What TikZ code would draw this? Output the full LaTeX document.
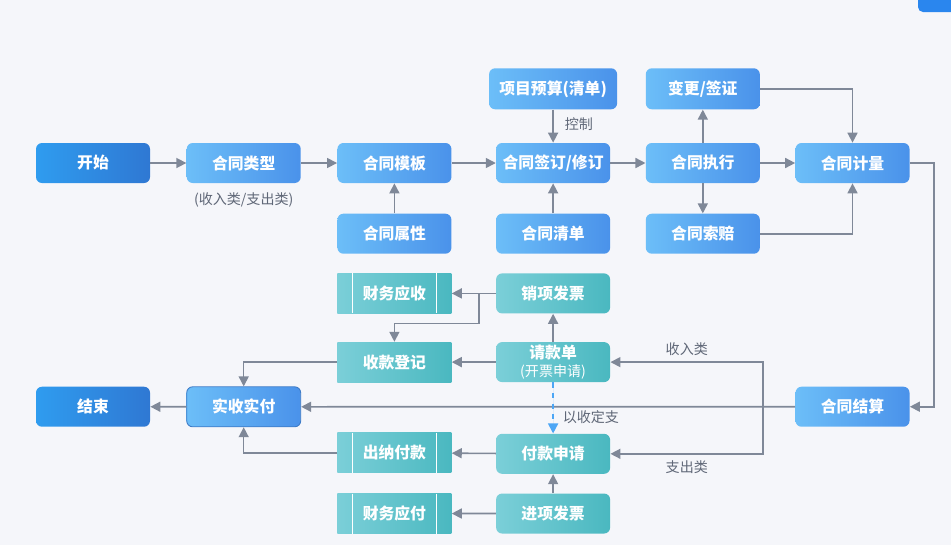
\documentclass[tikz,border=0pt]{standalone}
\usepackage{fontspec}
\setmainfont{Noto Sans CJK SC}
\usetikzlibrary{positioning,arrows.meta}

\definecolor{bgcol}{HTML}{F5F6FA}
\definecolor{termL}{HTML}{2F9CEF}
\definecolor{termR}{HTML}{2F78D3}
\definecolor{procL}{HTML}{6CBEF8}
\definecolor{procR}{HTML}{4A92EA}
\definecolor{tealL}{HTML}{7BCFD8}
\definecolor{tealR}{HTML}{4AB8C0}
\definecolor{linegray}{HTML}{7F8898}
\definecolor{notegray}{HTML}{5F6777}
\definecolor{dashblue}{HTML}{4DA6F5}
\definecolor{cornerblue}{HTML}{2A86EE}

\tikzstyle{base}=[rectangle, minimum width=2.28cm, minimum height=0.8cm, inner sep=1pt,
        text=white, align=center, font=\bfseries\fontsize{9}{10.5}\selectfont]
\tikzstyle{terminal}=[base, rounded corners=0.12cm, left color=termL, right color=termR]
\tikzstyle{process}=[base, rounded corners=0.12cm, left color=procL, right color=procR]
\tikzstyle{finance}=[base, rounded corners=0.12cm, left color=tealL, right color=tealR]
\tikzstyle{ledger}=[base, left color=tealL, right color=tealR]
\tikzstyle{account}=[ledger, path picture={
        \draw[white, line width=0.6pt] ([xshift=0.3cm]path picture bounding box.north west)
            -- ([xshift=0.3cm]path picture bounding box.south west);
        \draw[white, line width=0.6pt] ([xshift=-0.3cm]path picture bounding box.north east)
            -- ([xshift=-0.3cm]path picture bounding box.south east);}]
\tikzstyle{myarrow}=[-{Triangle[length=0.2cm, width=0.2cm]}, draw=linegray, line width=0.9pt]
\tikzstyle{dasharrow}=[-{Triangle[length=0.2cm, width=0.2cm]}, draw=dashblue, fill=dashblue,
        line width=0.9pt, dashed]
\tikzstyle{note}=[text=notegray, font=\fontsize{8}{9.5}\selectfont]

\begin{document}
\begin{tikzpicture}[node distance=0.72cm]
    \path[use as bounding box, fill=bgcol] (0,0) rectangle (19.02,-10.9);
    \fill[cornerblue, rounded corners=0.1cm] (18.36,0.2) rectangle (19.4,-0.24);

    % contract row
    \node (Start) [terminal] at (1.86,-3.26) {开始};
    \node (Type) [process, right=of Start] {合同类型};
    \node (TypeNote) [note, below=0.06cm of Type] {(收入类/支出类)};
    \node (Template) [process, right=0.72cm of Type] {合同模板};
    \node (Sign) [process, right=0.88cm of Template] {合同签订/修订};
    \node (Exec) [process, right=0.7cm of Sign] {合同执行};
    \node (Measure) [process, right=0.7cm of Exec] {合同计量};

    \node (Budget) [process, minimum width=2.56cm, minimum height=0.82cm, above=0.66cm of Sign] {项目预算(清单)};
    \node (Change) [process, minimum height=0.82cm, above=0.66cm of Exec] {变更/签证};
    \node (Attr) [process, below=0.6cm of Template] {合同属性};
    \node (List) [process, below=0.6cm of Sign] {合同清单};
    \node (Claim) [process, below=0.6cm of Exec] {合同索赔};

    % payment part
    \node (Receivable) [account, below=0.38cm of Attr] {财务应收};
    \node (SalesInv) [finance, below=0.38cm of List] {销项发票};
    \node (Collect) [ledger, below=0.56cm of Receivable] {收款登记};
    \node (Request) [finance, below=0.56cm of SalesInv]
        {请款单\\{\mdseries\fontsize{8}{9.5}\selectfont (开票申请)}};

    \node (End) [terminal, below=4.06cm of Start] {结束};
    \node (Actual) [process, draw=procR!85!black, line width=0.5pt, below=4.06cm of Type] {实收实付};
    \node (Settle) [process, below=4.06cm of Measure] {合同结算};

    \node (Cashier) [account, below=1.0cm of Collect] {出纳付款};
    \node (PayReq) [finance, below=1.02cm of Request] {付款申请};
    \node (Payable) [account, below=0.4cm of Cashier] {财务应付};
    \node (PurchInv) [finance, below=0.38cm of PayReq] {进项发票};

    \draw[myarrow] (Start) -- (Type);
    \draw[myarrow] (Type) -- (Template);
    \draw[myarrow] (Template) -- (Sign);
    \draw[myarrow] (Sign) -- (Exec);
    \draw[myarrow] (Exec) -- (Measure);
    \draw[myarrow] (Budget) -- node[note, right=0.1cm, pos=0.45] {控制} (Sign);
    \draw[myarrow] (Attr) -- (Template);
    \draw[myarrow] (List) -- (Sign);
    \draw[myarrow] (Exec) -- (Change);
    \draw[myarrow] (Exec) -- (Claim);
    \draw[myarrow] (Change.east) -| (Measure.north);
    \draw[myarrow] (Claim.east) -| (Measure.south);
    \draw[myarrow] (Measure.east) -- ++(0.48,0) |- (Settle.east);

    \draw[myarrow] (Settle) -- (Actual);
    \draw[myarrow] (Actual) -- (End);
    \coordinate (Split) at ([xshift=-0.64cm]Settle.west);
    \draw[myarrow] (Split) |- node[note, above, pos=0.75] {收入类} (Request.east);
    \draw[myarrow] (Split) |- node[note, below, pos=0.75] {支出类} (PayReq.east);

    \draw[myarrow] (SalesInv) -- (Receivable);
    \coordinate (Fork) at ([xshift=-0.34cm]SalesInv.west);
    \draw[myarrow] (Fork) -- ++(0,-0.6) -| (Collect.north);
    \draw[myarrow] (Request) -- (SalesInv);
    \draw[myarrow] (Request) -- (Collect);
    \draw[dasharrow] (Request) -- node[note, right=0.06cm, pos=0.68] {以收定支} (PayReq);
    \draw[myarrow] (PayReq) -- (Cashier);
    \draw[myarrow] (PurchInv) -- (PayReq);
    \draw[myarrow] (PurchInv) -- (Payable);
    \draw[myarrow] (Collect.west) -| (Actual.north);
    \draw[myarrow] (Cashier.west) -| (Actual.south);

\end{tikzpicture}
\end{document}
